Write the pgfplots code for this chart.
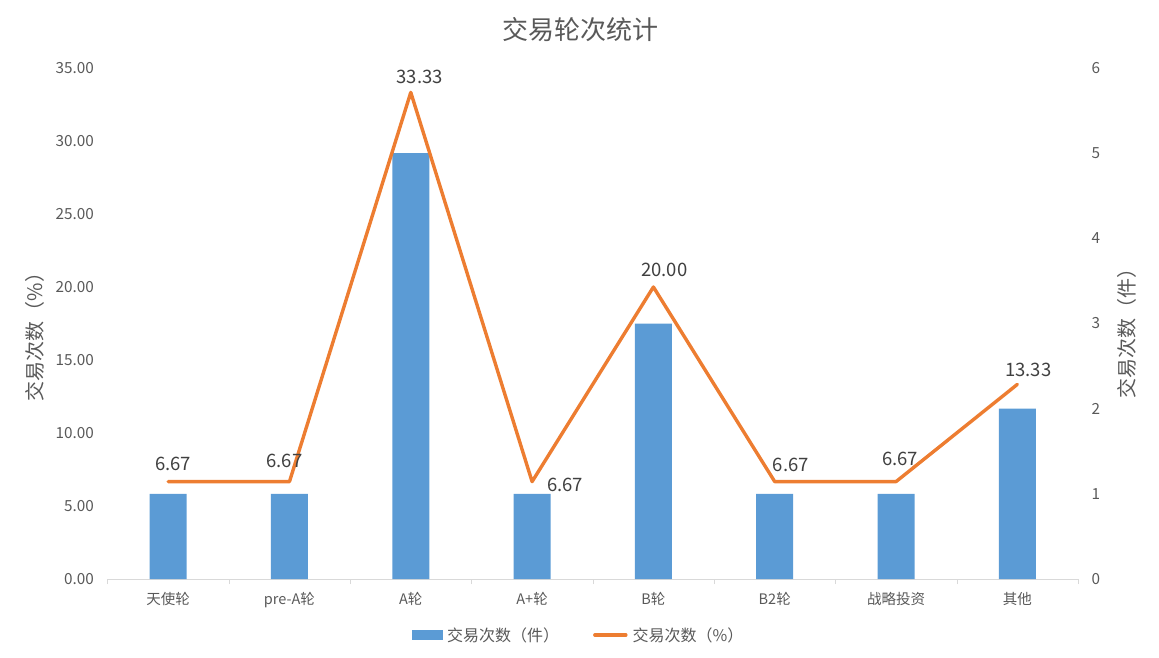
\documentclass[border=0pt]{standalone}
\usepackage{pgfplots}
\usepackage{pgfplotstable}
\pgfplotsset{compat=1.18}
\usepackage{fontspec}
\setmainfont{Noto Sans CJK SC}
\definecolor{barblue}{HTML}{5B9BD5}
\definecolor{lineorange}{HTML}{ED7D31}
\definecolor{txtgray}{HTML}{595959}
\definecolor{lblgray}{HTML}{404040}
\definecolor{axgray}{HTML}{D9D9D9}

\pgfplotstableread{
x y
0 1
1 1
2 5
3 1
4 3
5 1
6 1
7 2
}\barsdata

\pgfplotstableread{
x y
0 6.67
1 6.67
2 33.33
3 6.67
4 20.00
5 6.67
6 6.67
7 13.33
}\linedata

\pgfplotsset{base/.style={
  scale only axis, width=970.5pt, height=511pt,
  at={(107.5pt,78pt)}, anchor=south west,
  xmin=-0.5, xmax=7.5, ymin=0,
  /pgf/number format/assume math mode=true,
  clip=false,
  ticklabel style={text=txtgray},
}}
\pgfplotsset{lbl/.style n args={3}{forget plot, draw=none, mark=none, nodes near coords,
  every node near coord/.append style={anchor=#1, xshift=#2pt, yshift=#3pt, inner sep=0pt,
    font=\fontsize{18.5}{22}\selectfont, text=lblgray,
    /pgf/number format/.cd, fixed, fixed zerofill, precision=2}}}

\begin{document}
\begin{tikzpicture}[x=1pt,y=1pt]
\path[use as bounding box] (0,0) rectangle (1159,657);

% bars, right axis
\begin{axis}[base,
  ymax=6,
  axis x line*=bottom, axis y line*=right,
  x axis line style={draw=axgray, -},
  y axis line style={draw=none},
  xtick={0,...,7},
  xticklabels={天使轮,pre-A轮,A轮,A+轮,B轮,B2轮,战略投资,其他},
  xticklabel style={anchor=north, inner sep=0pt, yshift=-13pt, font=\fontsize{14.5}{17}\selectfont},
  major tick length=0pt,
  minor xtick={-0.5,0.5,...,7.5},
  minor tick length=5pt,
  tick align=outside,
  minor x tick style={draw=axgray},
  ytick={0,1,...,6},
  ytick style={draw=none},
  yticklabel style={anchor=west, inner sep=0pt, xshift=13.5pt, font=\fontsize{15.3}{18}\selectfont},
  ylabel={交易次数（件）},
  ylabel style={at={(axis description cs:1.0505,0.491)}, anchor=center, rotate=0, font=\fontsize{20}{24}\selectfont, text=txtgray},
]
\addplot[ybar, bar width=37pt, fill=barblue, draw=none] table[x=x,y=y] {\barsdata};
\end{axis}

% line, left axis
\begin{axis}[base,
  ymax=35,
  hide x axis,
  axis y line*=left,
  y axis line style={draw=none},
  ytick={0,5,...,35},
  ytick style={draw=none},
  major tick length=0pt,
  yticklabel style={anchor=east, inner sep=0pt, xshift=-13.5pt, font=\fontsize{15.3}{18}\selectfont,
    /pgf/number format/.cd, fixed, fixed zerofill, precision=2},
  ylabel={交易次数（\%）},
  ylabel style={at={(axis description cs:-0.0747,0.483)}, anchor=center, rotate=0, font=\fontsize{20}{24}\selectfont, text=txtgray},
  title={交易轮次统计},
  title style={at={(axis description cs:0.487,1.064)}, anchor=center, font=\fontsize{26}{30}\selectfont, text=txtgray},
  legend columns=2,
  legend style={at={(axis description cs:0.4843,-0.1096)}, anchor=center, draw=none, fill=none,
    font=\fontsize{16}{19}\selectfont, text=txtgray,
    nodes={inner sep=0pt},
    /tikz/every odd column/.append style={column sep=5pt},
    /tikz/every even column/.append style={column sep=34pt}},
]
\addlegendimage{legend image code/.code={\fill[barblue] (0pt,-4.5pt) rectangle (30pt,4.5pt);}}
\addlegendentry{交易次数（件）}
\addplot[lineorange, line width=3.4pt, line join=round, line cap=round, mark=none,
  legend image code/.code={\draw[lineorange, line width=3.4pt, line cap=round] (1.5pt,0pt) -- (32.5pt,0pt);},
] table[x=x,y=y] {\linedata};
\addlegendentry{交易次数（\%）}
\addplot[lbl={south}{5}{11}] coordinates {(0,6.67)};
\addplot[lbl={south}{-5}{14}] coordinates {(1,6.67)};
\addplot[lbl={south}{9}{8}] coordinates {(2,33.33)};
\addplot[lbl={west}{15}{-3}] coordinates {(3,6.67)};
\addplot[lbl={south}{11}{10}] coordinates {(4,20.00)};
\addplot[lbl={south}{16}{10}] coordinates {(5,6.67)};
\addplot[lbl={south}{4}{16}] coordinates {(6,6.67)};
\addplot[lbl={south}{11}{7}] coordinates {(7,13.33)};
\end{axis}
\end{tikzpicture}
\end{document}
